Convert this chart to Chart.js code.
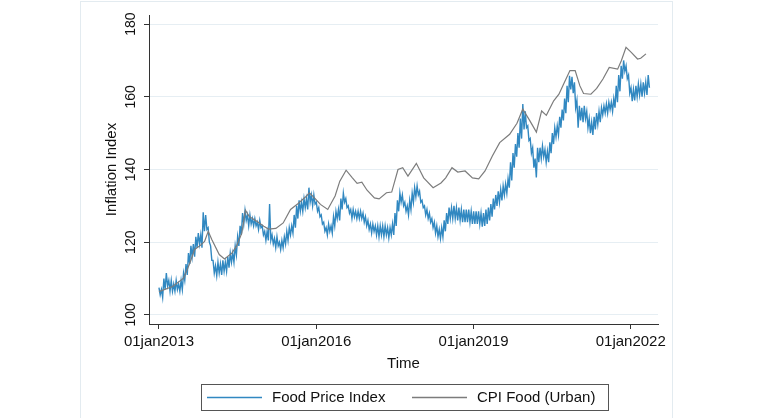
<!DOCTYPE html>
<html>
<head>
<meta charset="utf-8">
<script src="https://cdn.jsdelivr.net/npm/chart.js@4.4.1/dist/chart.umd.min.js"></script>
<style>
  html, body { margin: 0; padding: 0; background: #fff; }
  #wrap { width: 772px; height: 418px; position: relative; }
</style>
</head>
<body>
<div id="wrap"><canvas id="foodChart" width="772" height="418"></canvas></div>
<script>
// Food Price Index is daily and noisy: upper and lower edge of the band,
// read every ~17 days from the start of 2013
var fpiStart = 2013.0
var fpiStep = 0.0469
var fpiHigh = [
  107.5, 107, 110, 111.5, 109.5, 109.5, 108.5, 109.5, 108.5, 109.5,
  111.5, 114, 117, 119, 119.5, 121.5, 122.5, 122, 128.2, 127.5,
  124, 119, 115, 113.5, 114.5, 114, 115, 114.5, 116, 117,
  117, 119, 121.5, 124.5, 128, 128.7, 127.5, 127.5, 126.5, 126.5,
  125.5, 126, 124.5, 123, 123, 130.5, 122, 121, 121.5, 120,
  120.5, 121.5, 123, 124, 124.5, 127.5, 130, 131.5, 131, 132,
  132, 135, 133, 133, 131, 129.5, 127.5, 125.5, 124, 125,
  124.5, 127, 128.5, 129, 132, 133.5, 132, 130, 129, 129,
  128.5, 128.5, 128.5, 128, 127, 126, 125, 125, 124.5, 124.5,
  124.5, 124.5, 124.5, 124, 124, 125, 128, 131.5, 133.5, 133,
  131, 130, 131.5, 133.5, 135, 135.5, 134, 131.5, 130, 129,
  128, 126.5, 125.5, 124.5, 123.5, 124, 126, 128, 129.5, 129.5,
  130, 129.5, 129.5, 129, 129, 129, 129, 128.5, 128.5, 128.5,
  128.5, 128, 128, 129, 129.5, 130.5, 132, 133, 134, 134.5,
  135.5, 136, 137.5, 142, 144.5, 147, 150, 154, 158, 156,
  152, 148.5, 146, 143, 146, 146, 146.5, 145.5, 145, 147.5,
  150, 151.5, 152, 154.5, 156.5, 159.5, 163, 165.8, 165.5, 164,
  159, 157.5, 157, 157.5, 156, 154, 153, 154.5, 155.5, 156,
  157, 157.5, 158, 158.5, 158.5, 159.5, 163, 166, 168.5, 170,
  168.5, 166, 162.5, 162, 163, 163.5, 163.5, 164, 164, 166
]
var fpiLow = [
  105.5, 104.8, 107, 108, 106.5, 106.5, 106.5, 107, 106.5, 107,
  109.5, 111, 114, 116, 116, 118.5, 119.5, 118.5, 123, 123.5,
  120, 115, 111.5, 110.8, 111.5, 111, 112, 112, 113, 114.5,
  114.5, 116.5, 119, 122, 125, 126, 124.5, 125, 124.5, 124.5,
  123.5, 124, 122, 120.5, 120.5, 120.5, 119.5, 118.5, 119, 118,
  118.5, 119.5, 120.5, 122, 122.5, 124, 126.5, 128.5, 128.5, 129.5,
  129, 131, 130, 130.5, 128.5, 127, 125, 123, 122, 123,
  122.5, 124.5, 126.5, 126, 129, 131, 129.5, 128, 126.5, 127,
  126.5, 126.5, 126.5, 125.5, 124.5, 123.5, 122.5, 123, 122, 121.5,
  122, 121.5, 122, 121.2, 122, 122, 124.5, 128.5, 131, 130,
  128.5, 127.5, 129, 131, 132.5, 133, 131, 129.5, 127.5, 126.5,
  125.5, 124, 122.5, 121.5, 121, 121.5, 123, 125, 126.5, 126.5,
  126.5, 126, 126, 125.5, 125.5, 125.5, 125.5, 125, 125, 125,
  125, 124.3, 124.5, 125, 126, 127, 129, 130, 131, 131.5,
  133, 133.5, 135, 137, 140.5, 143.5, 146, 148.5, 151, 151.5,
  148, 144.5, 140.5, 137.8, 142, 143, 143.5, 142, 142, 144.5,
  147, 149, 149.5, 151.5, 153.5, 155.5, 158.5, 162, 161, 157,
  151.5, 153.5, 153, 154, 151.5, 150, 149.5, 151, 152.5, 153,
  155, 155.5, 155.5, 156.5, 156, 157, 158.5, 161.5, 165, 167,
  165, 161, 158.8, 159, 160, 160.5, 160, 161, 160.5, 162.5
]

// CPI Food (Urban), decimal years and values
var cpiYears = [
  2013.00, 2013.26, 2013.47, 2013.59, 2013.68, 2013.78, 2013.87, 2013.94, 2014.01, 2014.15,
  2014.25, 2014.39, 2014.48, 2014.58, 2014.65, 2014.72, 2014.86, 2015.00, 2015.09, 2015.23,
  2015.37, 2015.51, 2015.65, 2015.80, 2015.87, 2015.98, 2016.08, 2016.22, 2016.36, 2016.45,
  2016.57, 2016.69, 2016.78, 2016.87, 2016.97, 2017.11, 2017.20, 2017.34, 2017.44, 2017.56,
  2017.65, 2017.75, 2017.91, 2018.05, 2018.23, 2018.38, 2018.47, 2018.59, 2018.70, 2018.84,
  2018.98, 2019.10, 2019.22, 2019.36, 2019.50, 2019.69, 2019.83, 2019.94, 2020.06, 2020.20,
  2020.30, 2020.39, 2020.53, 2020.63, 2020.72, 2020.84, 2020.94, 2021.03, 2021.10, 2021.24,
  2021.35, 2021.47, 2021.59, 2021.75, 2021.82, 2021.91, 2022.01, 2022.13, 2022.19, 2022.29
]
var cpiValues = [
  106.4, 107.8, 110.1, 114.3, 118, 119, 120.2, 123, 120.7, 116.6,
  115.4, 117, 118.9, 122.5, 128.8, 127.1, 125.8, 124.4, 123.6, 123.8,
  125.3, 129, 130.6, 132.5, 133.6, 132, 130.4, 129, 132.7, 136.8,
  139.8, 137.7, 136.2, 136.5, 134.3, 132.2, 131.9, 133.6, 133.8, 140,
  140.5, 138.2, 141.7, 137.7, 135, 136.3, 137.7, 140.5, 139.3, 139.6,
  137.7, 137.4, 139.6, 143.7, 147.4, 149.7, 152.7, 156.6, 153.8, 150.3,
  156.1, 154.9, 158.9, 160.7, 163.5, 167.2, 167.2, 163, 160.9, 160.7,
  162.3, 164.9, 168.1, 167.6, 169.9, 173.6, 172.2, 170.4, 170.6, 171.8
]

var yTicks = [100, 120, 140, 160, 180]
var xTicks = [2013, 2016, 2019, 2022]

// daily series: alternate the upper and lower edge so the line fills the band
var fpiPoints = []
fpiHigh.forEach(function (h, i) {
  var x = fpiStart + i * fpiStep
  fpiPoints.push({ x: x, y: h })
  fpiPoints.push({ x: x + fpiStep / 2, y: fpiLow[i] })
})
var cpiPoints = cpiValues.map(function (v, i) {
  return { x: cpiYears[i], y: v }
})

var font = '"Liberation Sans", Arial, Helvetica, sans-serif'

// light frame round the graph region, like Stata draws
var framePlugin = {
  id: 'frame',
  beforeDraw: function (chart) {
    var ctx = chart.ctx
    ctx.save()
    ctx.fillStyle = '#fff'
    ctx.fillRect(0, 0, chart.width, chart.height)
    ctx.strokeStyle = '#e3ebf0'
    ctx.lineWidth = 1
    ctx.strokeRect(80.5, 1.5, 592, 430)
    ctx.restore()
  }
}

// boxed legend below the axis title
var legendPlugin = {
  id: 'boxLegend',
  afterDraw: function (chart) {
    var ctx = chart.ctx
    var items = [
      { ds: chart.data.datasets[0], x: 207 },
      { ds: chart.data.datasets[1], x: 412 }
    ]
    ctx.save()
    ctx.strokeStyle = '#555'
    ctx.lineWidth = 1
    ctx.strokeRect(201.5, 384.5, 407, 26)
    ctx.font = '15px ' + font
    ctx.textBaseline = 'middle'
    items.forEach(function (it) {
      ctx.strokeStyle = it.ds.borderColor
      ctx.lineWidth = 1.5
      ctx.beginPath()
      ctx.moveTo(it.x, 397.5)
      ctx.lineTo(it.x + 55, 397.5)
      ctx.stroke()
      ctx.fillStyle = '#111'
      ctx.fillText(it.ds.label, it.x + 65, 398)
    })
    ctx.restore()
  }
}

var ctx = document.getElementById('foodChart').getContext('2d')

var chart = new Chart(ctx, {
  type: 'line',
  data: {
    datasets: [
      {
        label: 'Food Price Index',
        data: fpiPoints,
        borderColor: '#3188c1',
        borderWidth: 1.4,
        pointRadius: 0,
        tension: 0,
        order: 1
      },
      {
        label: 'CPI Food (Urban)',
        data: cpiPoints,
        borderColor: '#7c7c7c',
        borderWidth: 1.2,
        pointRadius: 0,
        tension: 0,
        order: 0
      }
    ]
  },
  options: {
    responsive: false,
    animation: false,
    layout: { padding: { left: 100, right: 114, top: 15, bottom: 44 } },
    plugins: {
      legend: { display: false },
      tooltip: { enabled: false }
    },
    scales: {
      x: {
        type: 'linear',
        min: 2012.81,
        max: 2022.52,
        afterBuildTicks: function (scale) {
          scale.ticks = xTicks.map(function (v) { return { value: v } })
        },
        afterFit: function (scale) { scale.height = 50 },
        border: { color: '#333', width: 1 },
        grid: { drawOnChartArea: false, drawTicks: true, tickLength: 5, tickColor: '#333' },
        ticks: {
          color: '#111',
          padding: 4,
          maxRotation: 0,
          autoSkip: false,
          font: { family: font, size: 15 },
          callback: function (v) { return '01jan' + Math.round(v) }
        },
        title: {
          display: true,
          text: 'Time',
          color: '#111',
          font: { family: font, size: 15 },
          padding: { top: 0, bottom: 1 }
        }
      },
      y: {
        min: 97.5,
        max: 182.5,
        afterBuildTicks: function (scale) {
          scale.ticks = yTicks.map(function (v) { return { value: v } })
        },
        afterFit: function (scale) { scale.width = 49 },
        border: { color: '#333', width: 1 },
        grid: { color: '#e6eef3', lineWidth: 1, tickLength: 5, tickColor: '#333' },
        ticks: {
          color: '#111',
          padding: 1,
          minRotation: 90,
          maxRotation: 90,
          crossAlign: 'center',
          font: { family: font, size: 14 }
        },
        title: {
          display: true,
          text: 'Inflation Index',
          color: '#111',
          font: { family: font, size: 15 },
          padding: { top: 3, bottom: 0 }
        }
      }
    }
  },
  plugins: [framePlugin, legendPlugin]
})
</script>
</body>
</html>
